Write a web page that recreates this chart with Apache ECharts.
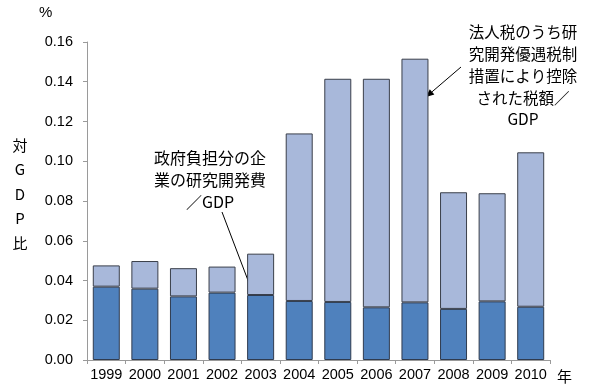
<!DOCTYPE html>
<html><head><meta charset="utf-8">
<script src="https://cdn.jsdelivr.net/npm/echarts@6/dist/echarts.min.js"></script>
<style>html,body{margin:0;padding:0;background:#fff}#c{width:600px;height:391px}</style>
</head><body><div id="c"></div>
<script>
var years = ['1999','2000','2001','2002','2003','2004','2005','2006','2007','2008','2009','2010'];
var govShare = [0.0369,0.0359,0.0320,0.0339,0.0327,0.0297,0.0292,0.0265,0.0290,0.0257,0.0295,0.0268];
var totalShare = [0.0476,0.0498,0.0462,0.0470,0.0535,0.1140,0.1415,0.1415,0.1516,0.0844,0.0839,0.1045];
var taxShare = totalShare.map(function(t,i){return +(t-govShare[i]).toFixed(4);});
var yTicks = {min:0, max:0.16, interval:0.02};

var FONT = '"Liberation Sans", "Noto Sans CJK JP", sans-serif';
var JFONT = '"Noto Sans CJK JP", "Liberation Sans", sans-serif';

function arrow(x1,y1,x2,y2){
  var dx=x2-x1, dy=y2-y1, L=Math.sqrt(dx*dx+dy*dy), ux=dx/L, uy=dy/L;
  var hl=8, hw=3.5;
  var bx=x2-ux*hl, by=y2-uy*hl;
  return [
    {type:'line', shape:{x1:x1,y1:y1,x2:bx,y2:by}, style:{stroke:'#000',lineWidth:1}},
    {type:'polygon', shape:{points:[[x2,y2],[bx-uy*hw,by+ux*hw],[bx+uy*hw,by-ux*hw]]}, style:{fill:'#000'}}
  ];
}

var chart = echarts.init(document.getElementById('c'));
var graphics = [
  {type:'text', left:39, top:5, style:{text:'%', font:'15px '+FONT, fill:'#000'}},
  {type:'text', left:557, top:369, style:{text:'年', font:'15px '+JFONT, fill:'#000'}},
  {type:'text', x:20, y:194, style:{text:'対\nG\nD\nP\n比', font:'15px '+JFONT, fill:'#000', align:'center', verticalAlign:'middle', lineHeight:24.5}},
  {type:'text', x:210, y:180, style:{text:'政府負担分の企\n業の研究開発費\n／GDP', font:'16px '+JFONT, fill:'#000', align:'center', verticalAlign:'middle', lineHeight:22}},
  {type:'text', x:523, y:76, style:{text:'法人税のうち研\n究開発優遇税制\n措置により控除\nされた税額／\nGDP', font:'15.5px '+JFONT, fill:'#000', align:'center', verticalAlign:'middle', lineHeight:21.7}}
];
graphics = graphics.concat(arrow(222,212,257,304), arrow(461,67,426,97));

chart.setOption({
  animation:false,
  backgroundColor:'#fff',
  grid:{left:87, right:50, top:42, bottom:31},
  xAxis:{
    type:'category', data:years,
    axisLine:{lineStyle:{color:'#9a9a9a', width:1}},
    axisTick:{show:true, length:4, lineStyle:{color:'#9a9a9a'}},
    axisLabel:{color:'#000', fontSize:14.5, fontFamily:FONT, margin:8, interval:0}
  },
  yAxis:{
    type:'value', min:yTicks.min, max:yTicks.max, interval:yTicks.interval,
    axisLine:{show:true, lineStyle:{color:'#9a9a9a', width:1}},
    axisTick:{show:true, length:4, lineStyle:{color:'#9a9a9a'}},
    splitLine:{show:false},
    axisLabel:{color:'#000', fontSize:14.5, fontFamily:FONT, margin:14, formatter:function(v){return v.toFixed(2);}}
  },
  series:[
    {type:'bar', stack:'s', data:govShare, barCategoryGap:'30%',
     itemStyle:{color:'#4f81bd', borderColor:'#2f3b4f', borderWidth:1}},
    {type:'bar', stack:'s', data:taxShare, barCategoryGap:'30%',
     itemStyle:{color:'#a8b8da', borderColor:'#3a3f4a', borderWidth:1}}
  ],
  graphic:graphics
});
</script></body></html>
